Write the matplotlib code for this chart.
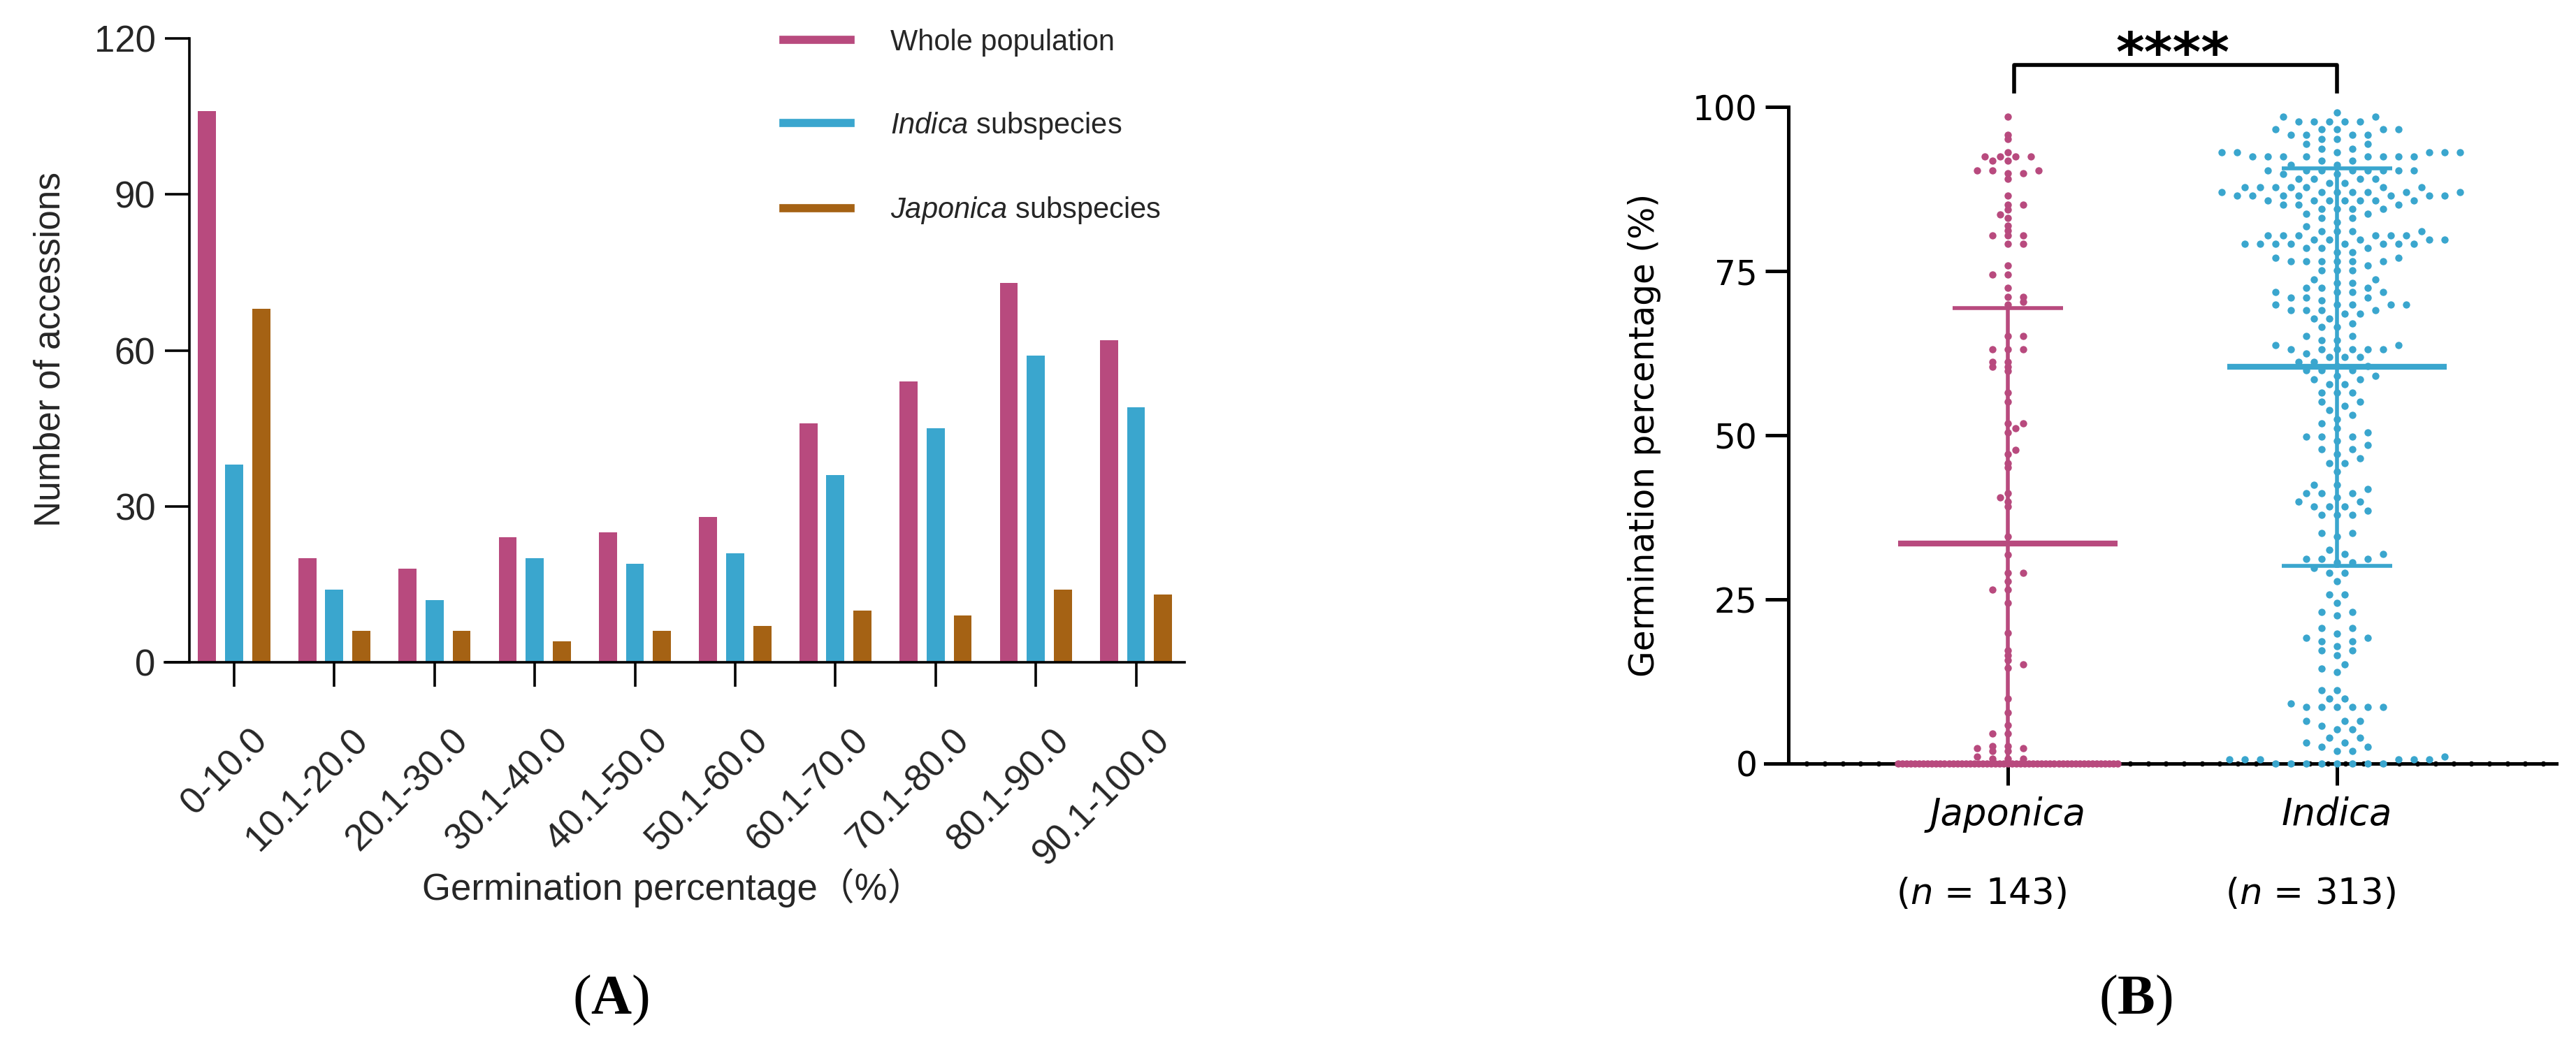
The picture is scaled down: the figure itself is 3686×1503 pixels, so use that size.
import numpy as np
import matplotlib.pyplot as plt
from matplotlib.lines import Line2D
from matplotlib.transforms import ScaledTranslation

plt.rcParams['font.family'] = ['Liberation Sans', 'Noto Sans CJK SC', 'DejaVu Sans']
plt.rcParams['mathtext.fontset'] = 'custom'
plt.rcParams['mathtext.rm'] = 'Liberation Sans'
plt.rcParams['mathtext.it'] = 'Liberation Sans:italic'
plt.rcParams['mathtext.bf'] = 'Liberation Serif:bold'

# ---- data: panel A (histogram of germination percentage) ----
bins = ['0-10.0', '10.1-20.0', '20.1-30.0', '30.1-40.0', '40.1-50.0',
        '50.1-60.0', '60.1-70.0', '70.1-80.0', '80.1-90.0', '90.1-100.0']
whole = [106, 20, 18, 24, 25, 28, 46, 54, 73, 62]
indica_hist = [38, 14, 12, 20, 19, 21, 36, 45, 59, 49]
japonica_hist = [68, 6, 6, 4, 6, 7, 10, 9, 14, 13]

# ---- data: panel B (individual accessions, value + how many at that value) ----
japonica_values = [98.5, 95.8, 95.1, 93.1, 92.5, 91.9, 90.4,
                   89.9, 89.1, 86.5, 85.1, 84.4, 83.7, 83.1, 81.9, 81.2, 80.5,
                   79.2, 75.9, 74.5, 72.5, 71.1, 70.4,
                   69.9, 65.1, 63.1, 61.2, 60.5,
                   59.8, 56.5, 55.1, 51.8, 51.1, 50.5,
                   47.8, 47.2, 45.8, 45.1, 41.2, 40.5,
                   39.9, 39.2, 34.6, 31.8,
                   29.1, 27.8, 26.5, 24.5,
                   19.9, 17.2, 16.5, 15.8, 15.1, 14.6,
                   9.9, 7.8, 5.9, 4.6, 2.7, 2.3, 1.9, 1.1, 0.7, 0.0]
japonica_counts = [1, 1, 1, 1, 4, 2, 3,
                   2, 1, 1, 2, 1, 1, 1, 1, 1, 3,
                   2, 1, 2, 1, 2, 1,
                   1, 2, 3, 2, 2,
                   1, 1, 1, 2, 1, 1,
                   1, 1, 1, 1, 1, 1,
                   1, 1, 1, 1,
                   2, 1, 2, 1,
                   1, 1, 1, 1, 1, 1,
                   1, 1, 1, 2, 2, 2, 2, 1, 3, 53]

indica_values = [99.2, 98.6, 97.8, 96.6, 95.8, 95.1, 94.4, 93.7, 93.1, 92.5, 91.8, 91.2, 90.4,
                 89.8, 89.1, 88.4, 87.8, 87.1, 86.5, 85.8, 85.1, 84.5, 83.8, 83.1, 82.5, 81.8, 81.1, 80.5,
                 79.8, 79.2, 78.5, 77.9, 77.1, 76.5, 75.9, 75.1, 73.8, 73.2, 72.5, 71.8, 71.0, 70.6,
                 69.9, 69.1, 68.5, 67.8, 67.1, 66.5, 65.1, 64.5, 63.8, 63.1, 62.5, 61.9, 61.2, 60.6,
                 59.9, 59.1, 58.5, 57.8, 56.5, 55.1, 54.5, 53.8, 53.1, 52.5, 51.8, 51.1, 50.5,
                 49.8, 49.2, 48.5, 47.9, 47.2, 46.5, 45.8, 44.5, 42.5, 41.8, 41.2, 40.5,
                 39.9, 39.2, 38.5, 37.9, 35.1, 34.6, 32.6, 31.9, 31.2, 30.6,
                 29.8, 29.1, 27.8, 25.8, 24.5, 23.1, 22.6, 20.6,
                 19.8, 19.2, 18.6, 17.9, 17.2, 16.5, 15.1, 14.5, 13.9, 11.2,
                 9.9, 9.2, 8.6, 6.5, 5.8, 5.2, 3.9, 3.2, 2.6, 1.9, 1.1, 0.6, 0.0]
indica_counts = [1, 2, 5, 5, 4, 2, 2, 2, 6, 8, 2, 2, 8,
                 2, 4, 2, 7, 7, 7, 7, 3, 4, 2, 2, 1, 1, 4, 6,
                 5, 8, 3, 2, 2, 6, 1, 3, 2, 2, 3, 4, 3, 1,
                 5, 4, 2, 2, 1, 2, 2, 2, 2, 6, 1, 3, 2, 2,
                 3, 2, 2, 2, 3, 2, 1, 1, 1, 1, 1, 1, 1,
                 3, 1, 1, 2, 1, 1, 2, 1, 2, 1, 3, 1,
                 2, 3, 1, 3, 2, 1, 1, 2, 3, 2,
                 1, 2, 1, 2, 1, 2, 1, 2,
                 1, 2, 2, 1, 2, 1, 1, 1, 1, 2,
                 2, 1, 6, 3, 1, 2, 2, 2, 2, 2, 1, 6, 8]

groups = ['Japonica', 'Indica']
group_n = [143, 313]
group_mean = [33.5, 60.4]
group_sd = [35.9, 30.3]

PINK = '#B84A7E'
BLUE = '#3AA6CE'
BROWN = '#A56214'
TXT = '#262626'

W, H, DPI = 3687, 1503, 200
fig = plt.figure(figsize=(W / DPI, H / DPI), dpi=DPI)

# ================= Panel A =================
axA = fig.add_axes([236 / W, 1 - 948 / H, (1695 - 236) / W, (948 - 55) / H])
x = np.arange(len(bins))
axA.bar(x - 0.27, whole, 0.18, color=PINK)
axA.bar(x, indica_hist, 0.18, color=BLUE)
axA.bar(x + 0.27, japonica_hist, 0.18, color=BROWN)

axA.set_xlim(-0.690, 9.484)
axA.set_ylim(0, 120)
axA.spines['top'].set_visible(False)
axA.spines['right'].set_visible(False)
axA.spines['left'].set_position(('data', -0.446))
axA.spines['left'].set_bounds(0, 120)
for s in ['left', 'bottom']:
    axA.spines[s].set_linewidth(1.3)
axA.set_yticks([0, 30, 60, 90, 120])
axA.set_xticks(x)
axA.set_xticklabels(bins, rotation=45, ha='right', rotation_mode='anchor')
axA.tick_params(direction='out', length=12.5, width=1.3, labelsize=19,
                labelcolor=TXT, pad=5)
axA.tick_params(axis='x', pad=10)
shift = ScaledTranslation(22 / DPI, -24 / DPI, fig.dpi_scale_trans)
for lab in axA.get_xticklabels():
    lab.set_transform(lab.get_transform() + shift)

fig.text(72 / W, 1 - 500 / H, 'Number of accessions', rotation=90,
         ha='center', va='center', fontsize=18.5, color=TXT)
fig.text(963 / W, 1 - 1271 / H, 'Germination percentage（%）',
         ha='center', va='center', fontsize=19, color=TXT)

handles = [Line2D([], [], color=c, lw=4.2) for c in (PINK, BLUE, BROWN)]
labels = ['Whole population', r'$\it{Indica}$ subspecies', r'$\it{Japonica}$ subspecies']
leg = axA.legend(handles, labels, frameon=False, fontsize=15, handlelength=2.3,
                 handletextpad=1.37, labelspacing=1.85, loc='upper left',
                 bbox_to_anchor=(1121 / W, 1 - 41 / H), bbox_transform=fig.transFigure,
                 borderpad=0, borderaxespad=0)
for t in leg.get_texts():
    t.set_color(TXT)

fig.text(874 / W, 1 - 1432 / H, r'($\mathbf{A}$)', family='Liberation Serif',
         fontsize=29, ha='center', va='center', math_fontfamily='custom')

# ================= Panel B =================
axB = fig.add_axes([2526 / W, 1 - 1093 / H, (3658 - 2526) / W, (1093 - 153.4) / H])
x0, x1 = -0.737, 1.667
axB.set_xlim(x0, x1)
axB.set_ylim(0, 100)
pos = axB.get_position()
px_x = pos.width * W / (x1 - x0)
px_y = pos.height * H / 100.0


def swarm(vals, half_w, dx=20.0, dy=6.5, step=11.0):
    # greedy beeswarm in pixel space, rows too long for the width are squeezed
    vals = np.asarray(vals, float)
    offs = np.zeros(len(vals))
    done = np.zeros(len(vals), bool)
    px, py = [], []
    uniq, cnt = np.unique(vals, return_counts=True)
    for u, c in zip(uniq, cnt):
        if (c - 1) * dx > 2 * half_w:
            idx = np.where(vals == u)[0]
            xs = np.linspace(-half_w, half_w, c)
            offs[idx] = xs
            done[idx] = True
            px += list(xs)
            py += [u * px_y] * c
    flip = 1
    for i in np.argsort(vals, kind='stable'):
        if done[i]:
            continue
        y = vals[i] * px_y
        ax_ = np.array(px)
        ay_ = np.array(py)
        k = 0
        while True:
            cand = [0.0] if k == 0 else [flip * k * step, -flip * k * step]
            ok = None
            for c in cand:
                if len(ax_) == 0 or np.all(((c - ax_) / dx) ** 2 + ((y - ay_) / dy) ** 2 >= 1):
                    ok = c
                    break
            if ok is not None:
                break
            k += 1
        flip = -flip
        offs[i] = ok
        px.append(ok)
        py.append(y)
    return offs / px_x


# black dots sitting on the x axis line
axis_dots = np.arange(-0.611, x1, 25.7 / px_x)
axB.scatter(axis_dots, np.zeros_like(axis_dots), s=7.3, color='black',
            linewidths=0, zorder=3, clip_on=False)

point_sets = [np.repeat(japonica_values, japonica_counts),
              np.repeat(indica_values, indica_counts)]
colors = [PINK, BLUE]
spread_dy = [6.5, 13.0]
for i, (vals, col) in enumerate(zip(point_sets, colors)):
    offs = swarm(vals, 157, dx=21.0, dy=spread_dy[i])
    axB.scatter(i + offs, vals, s=14, color=col, linewidths=0, zorder=5, clip_on=False)
    m, sd = group_mean[i], group_sd[i]
    lo, hi = max(0, m - sd), m + sd
    axB.plot([i - 0.333, i + 0.333], [m, m], color=col, lw=3.0, zorder=6,
             solid_capstyle='butt', clip_on=False)
    axB.plot([i, i], [lo, hi], color=col, lw=2.0, zorder=4, clip_on=False)
    for v in (m - sd, m + sd):
        if v > 0:
            axB.plot([i - 0.167, i + 0.167], [v, v], color=col, lw=2.0, zorder=6,
                     solid_capstyle='butt', clip_on=False)

axB.spines['top'].set_visible(False)
axB.spines['right'].set_visible(False)
axB.spines['left'].set_position(('data', -0.667))
axB.spines['left'].set_bounds(0, 100)
for s in ['left', 'bottom']:
    axB.spines[s].set_linewidth(1.8)
axB.set_yticks([0, 25, 50, 75, 100])
axB.set_yticklabels(['0', '25', '50', '75', '100'], family='DejaVu Sans')
axB.tick_params(axis='y', direction='out', length=12, width=1.8, labelsize=17.5, pad=4)
axB.set_xticks([0, 1])
axB.set_xticklabels(groups, family='DejaVu Sans', fontstyle='italic')
axB.tick_params(axis='x', direction='out', length=11, width=1.8, labelsize=19, pad=6)

for i, n in enumerate(group_n):
    axB.text(i - 0.08, -0.199, r'($\it{n}$ = %d)' % n, transform=axB.get_xaxis_transform(),
             ha='center', va='center', fontsize=18.5, family='DejaVu Sans',
             math_fontfamily='dejavusans')

fig.text(2353 / W, 1 - 623 / H, 'Germination percentage (%)', rotation=90,
         ha='center', va='center', fontsize=17.5, family='DejaVu Sans')

# significance bracket
axB.plot([0.02, 0.02, 1.0, 1.0], [102.4, 106.4, 106.4, 102.4], color='black',
         lw=2.0, clip_on=False)
axB.text(0.5, 105.5, '****', ha='center', va='baseline', fontsize=28,
         fontweight='bold', family='DejaVu Sans')

fig.text(3056 / W, 1 - 1432 / H, r'($\mathbf{B}$)', family='Liberation Serif',
         fontsize=29, ha='center', va='center', math_fontfamily='custom')

fig.savefig('out.png', dpi=DPI, facecolor='white')
